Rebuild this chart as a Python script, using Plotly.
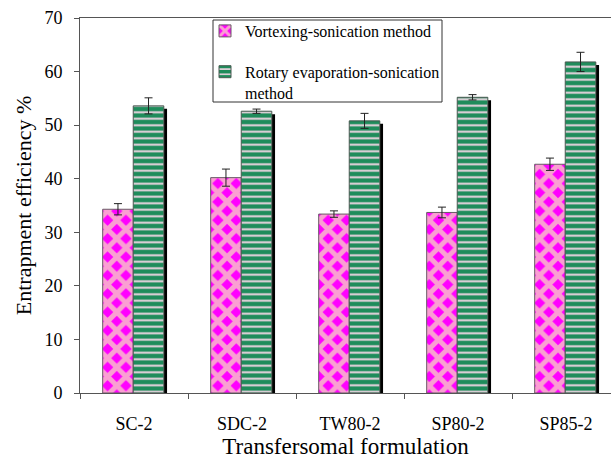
import plotly.graph_objects as go

# Entrapment efficiency (%) of each transfersomal formulation
formulations = ["SC-2", "SDC-2", "TW80-2", "SP80-2", "SP85-2"]
vortexing = [34.3, 40.2, 33.4, 33.7, 42.7]
vortexing_err = [1.05, 1.6, 0.6, 1.0, 1.15]
rotary = [53.6, 52.6, 50.8, 55.2, 61.8]
rotary_err = [1.5, 0.4, 1.4, 0.5, 1.8]
series_names = ["Vortexing-sonication method",
                "Rotary evaporation-sonication<br>method"]
y_ticks = [0, 10, 20, 30, 40, 50, 60, 70]

FONT = "Liberation Serif"
TEXT = "#000000"
BAR_W = 0.283
LEFT_OFF = -0.29
RIGHT_OFF = LEFT_OFF + BAR_W

# plot area geometry (pixels) used to place paper-relative items
PLOT_L, PLOT_T, PLOT_W, PLOT_H = 80, 18, 531, 375


def px_x(px):
    return (px - PLOT_L) / PLOT_W


def px_y(py):
    return (PLOT_T + PLOT_H - py) / PLOT_H


fig = go.Figure()

# drop shadow to the right of the taller bars
fig.add_trace(go.Bar(
    x=formulations, y=[v - 0.55 for v in rotary],
    offset=RIGHT_OFF + BAR_W, width=0.03,
    marker=dict(color="#000000", line=dict(width=0)),
    showlegend=False, hoverinfo="skip",
))

fig.add_trace(go.Bar(
    x=formulations, y=vortexing, name=series_names[0],
    offset=LEFT_OFF, width=BAR_W, legendgroup="a",
    marker=dict(
        color="#ff00ff",
        line=dict(color="#6a5a66", width=1),
        pattern=dict(shape="x", bgcolor="#ff00ff", fgcolor="#fa9fd2",
                     size=13, solidity=0.62, fillmode="replace"),
    ),
    error_y=dict(type="data", array=vortexing_err, color="#222222",
                 thickness=1, width=4),
))

fig.add_trace(go.Bar(
    x=formulations, y=rotary, name=series_names[1],
    offset=RIGHT_OFF, width=BAR_W, legendgroup="b",
    marker=dict(
        color="#1f8c5b",
        line=dict(color="#4a5a52", width=1),
        pattern=dict(shape="-", bgcolor="#1f8c5b", fgcolor="#f1d6e3",
                     size=6.5, solidity=0.3, fillmode="replace"),
    ),
    error_y=dict(type="data", array=rotary_err, color="#222222",
                 thickness=1, width=4),
))

# legend frame
fig.add_shape(
    type="rect", xref="paper", yref="paper",
    x0=px_x(213), x1=px_x(442), y0=px_y(102), y1=px_y(20),
    line=dict(color="#333333", width=1), fillcolor="white", layer="above",
)

fig.update_layout(
    width=611, height=459,
    margin=dict(l=PLOT_L, r=0, t=PLOT_T, b=459 - PLOT_T - PLOT_H),
    barmode="overlay",
    plot_bgcolor="white", paper_bgcolor="white",
    font=dict(family=FONT, color=TEXT),
    showlegend=True,
    legend=dict(
        x=px_x(205), y=px_y(14), xanchor="left", yanchor="top",
        bgcolor="rgba(0,0,0,0)", borderwidth=0,
        font=dict(family=FONT, size=16, color=TEXT),
        traceorder="grouped", tracegroupgap=17, valign="top",
    ),
)

fig.update_xaxes(
    range=[-0.5, -0.5 + PLOT_W / 108],
    showline=True, linecolor="#555555", linewidth=1, mirror=True,
    ticks="outside", tickson="boundaries", ticklen=5, tickcolor="#555555",
    ticklabelstandoff=14,
    tickfont=dict(family=FONT, size=18, color=TEXT),
    title=dict(text="Transfersomal formulation",
               font=dict(family=FONT, size=23, color=TEXT), standoff=4),
    showgrid=False, zeroline=False, fixedrange=True,
)
fig.update_yaxes(
    range=[0, 70], tickvals=y_ticks,
    showline=True, linecolor="#555555", linewidth=1,
    ticks="outside", ticklen=5, tickcolor="#555555",
    ticklabelstandoff=8,
    tickfont=dict(family=FONT, size=18, color=TEXT),
    title=dict(text="Entrapment efficiency %",
               font=dict(family=FONT, size=22, color=TEXT), standoff=6),
    showgrid=False, zeroline=False, fixedrange=True,
)

fig.write_html("out.html")
